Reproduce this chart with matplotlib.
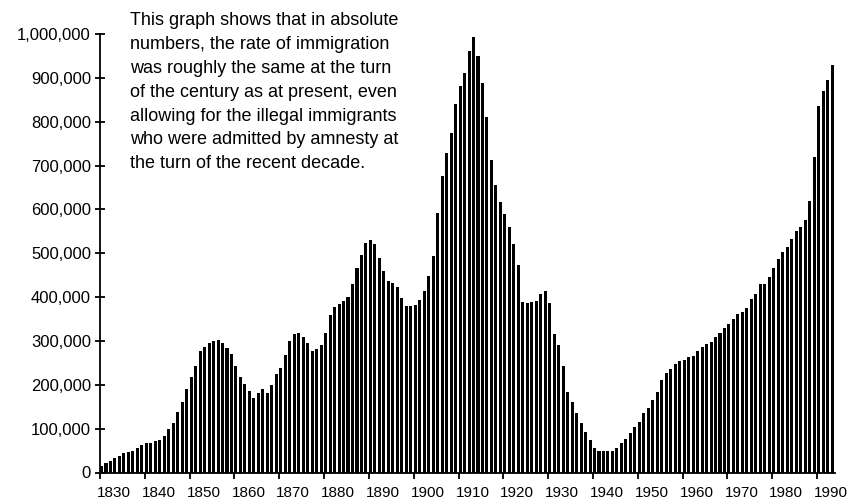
import matplotlib
matplotlib.use("Agg")
import matplotlib.pyplot as plt
import matplotlib.transforms as mtransforms

plt.rcParams["font.family"] = ["Liberation Sans", "DejaVu Sans"]

# immigrants per year, in thousands
years = list(range(1830, 1994))
immigrants_k = [
    15, 21, 27, 32, 38, 44, 47, 50, 55, 62,            # 1830s
    68, 68, 71, 74, 84, 99, 112, 137, 160, 190,        # 1840s
    217, 242, 276, 287, 295, 299, 302, 295, 283, 270,  # 1850s
    244, 218, 201, 187, 169, 181, 190, 181, 199, 224,  # 1860s
    239, 268, 300, 315, 317, 310, 295, 277, 281, 291,  # 1870s
    317, 359, 377, 384, 392, 401, 431, 467, 496, 524,  # 1880s
    530, 520, 490, 460, 437, 433, 423, 399, 380, 380,  # 1890s
    382, 393, 415, 449, 494, 591, 677, 728, 775, 840,  # 1900s
    881, 912, 961, 994, 950, 888, 810, 712, 655, 617,  # 1910s
    590, 560, 520, 473, 389, 386, 389, 390, 406, 415,  # 1920s
    386, 316, 290, 244, 184, 160, 136, 112, 92, 73,    # 1930s
    57, 49, 49, 49, 49, 57, 67, 77, 89, 104,           # 1940s
    116, 135, 148, 165, 184, 211, 228, 237, 247, 255,  # 1950s
    256, 264, 266, 278, 287, 294, 297, 308, 319, 329,  # 1960s
    339, 349, 361, 367, 376, 396, 407, 429, 430, 446,  # 1970s
    466, 487, 503, 515, 532, 551, 559, 576, 620, 719,  # 1980s
    836, 870, 896, 929,                                # 1990-1993
]
heights = [v * 1000 for v in immigrants_k]

decades = list(range(1830, 2000, 10))
decade_labels = [str(d) for d in decades]
yticks = list(range(0, 1000001, 100000))
ytick_labels = ["0"] + ["{:,}".format(v) for v in yticks[1:]]

note = ("This graph shows that in absolute\n"
        "numbers, the rate of immigration\n"
        "was roughly the same at the turn\n"
        "of the century as at present, even\n"
        "allowing for the illegal immigrants\n"
        "who were admitted by amnesty at\n"
        "the turn of the recent decade.")

fig = plt.figure(figsize=(8.51, 5.03), dpi=100)
ax = fig.add_axes([100 / 851, 30.5 / 503, 735 / 851, 438.5 / 503])

ax.bar(years, heights, width=0.68, align="edge", color="black", linewidth=0)

ax.set_xlim(1830, 1994)
ax.set_ylim(0, 1000000)

ax.spines["top"].set_visible(False)
ax.spines["right"].set_visible(False)
ax.spines["left"].set_linewidth(1.3)
ax.spines["bottom"].set_linewidth(1.3)

ax.set_yticks(yticks)
ax.set_yticklabels(ytick_labels, fontsize=12)
ax.tick_params(axis="y", direction="inout", length=7, width=1.3, pad=3)

ax.set_xticks(decades)
ax.set_xticklabels(decade_labels, fontsize=11)
ax.tick_params(axis="x", direction="out", length=4, width=1.3, pad=6)
shift = mtransforms.ScaledTranslation(14 / 100, 0, fig.dpi_scale_trans)
for lab in ax.get_xticklabels():
    lab.set_transform(lab.get_transform() + shift)

fig.text(130 / 851, 1 - 12 / 503, note, ha="left", va="top",
         fontsize=13, linespacing=1.53)

fig.savefig("out.png", dpi=100, facecolor="white")
